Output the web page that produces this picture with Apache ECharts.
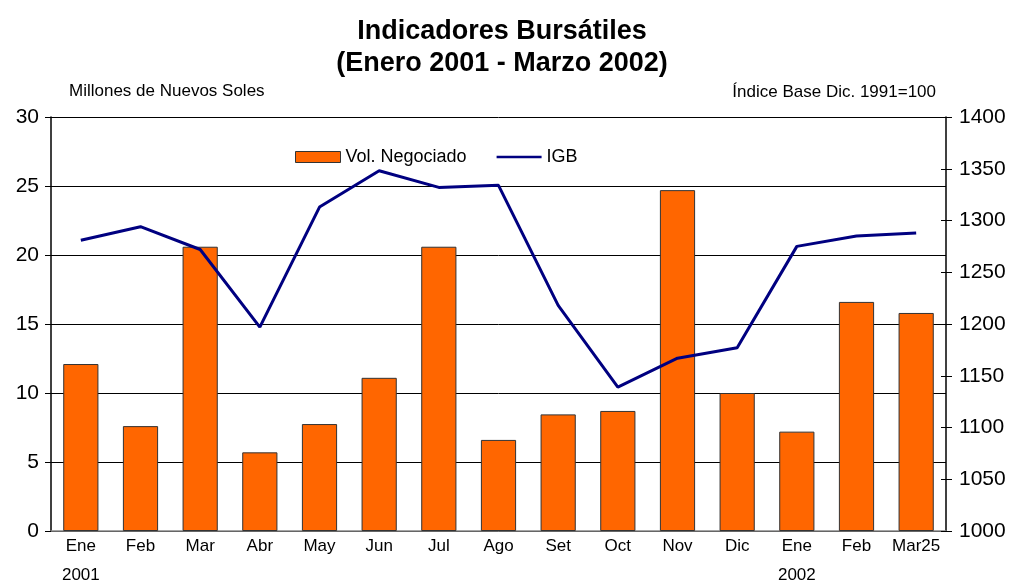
<!DOCTYPE html>
<html><head><meta charset="utf-8">
<script src="https://cdn.jsdelivr.net/npm/echarts@6/dist/echarts.min.js"></script>
<style>html,body{margin:0;padding:0;background:#fff}#c{width:1011px;height:582px}</style>
</head><body><div id="c"></div>
<script>
var categories = ['Ene','Feb','Mar','Abr','May','Jun','Jul','Ago','Set','Oct','Nov','Dic','Ene','Feb','Mar25'];
var years = ['2001','','','','','','','','','','','','2002','',''];
var volNegociado = [12.1, 7.6, 20.6, 5.7, 7.75, 11.1, 20.6, 6.6, 8.45, 8.7, 24.7, 10.0, 7.2, 16.6, 15.8];
var igb = [1281, 1294, 1272, 1197, 1313, 1348, 1332, 1334, 1218, 1139, 1167, 1177, 1275, 1285, 1288];
var leftTicks = [0, 30, 5];
var rightTicks = [1000, 1400, 50];

var chart = echarts.init(document.getElementById('c'));
var F = 'Arial, "Liberation Sans", sans-serif';
chart.setOption({
  animation: false,
  textStyle: {fontFamily: F},
  title: [
    {text: 'Indicadores Bursátiles\n(Enero 2001 - Marzo 2002)', left: 497, top: 11, textAlign: 'center',
     textStyle: {fontFamily: F, fontSize: 27, fontWeight: 'bold', color: '#000', lineHeight: 32}},
    {text: 'Millones de Nuevos Soles', left: 64, top: 78, textStyle: {fontFamily: F, fontSize: 17, fontWeight: 'normal', color: '#000'}},
    {text: 'Índice Base Dic. 1991=100', right: 70, top: 79, textStyle: {fontFamily: F, fontSize: 17, fontWeight: 'normal', color: '#000'}}
  ],
  legend: {
    top: 143, left: 290, itemGap: 30,
    textStyle: {fontFamily: F, fontSize: 18, color: '#000'},
    data: [
      {name: 'Vol. Negociado', icon: 'rect', itemStyle: {color: '#FF6600', borderColor: '#333', borderWidth: 1}},
      {name: 'IGB', icon: 'path://M0,0 L50,0 L50,3 L0,3 Z', itemStyle: {color: '#000080'}}
    ],
    itemWidth: 45, itemHeight: 11
  },
  grid: {left: 51, right: 65, top: 117, bottom: 51, containLabel: false, outerBoundsMode: 'none'},
  xAxis: {
    type: 'category', data: categories,
    axisLine: {lineStyle: {color: '#888', width: 1.5}},
    axisTick: {show: false},
    axisLabel: {
      interval: 0,
      color: '#000', fontSize: 17, fontFamily: F, margin: 1, lineHeight: 29,
      formatter: function (v, i) { return years[i] ? v + '\n' + years[i] : v; }
    }
  },
  yAxis: [
    {type: 'value', min: leftTicks[0], max: leftTicks[1], interval: leftTicks[2], position: 'left',
     axisLine: {show: true, lineStyle: {color: '#000', width: 1.5}},
     axisTick: {show: true, length: 6, lineStyle: {color: '#000'}},
     axisLabel: {color: '#000', fontSize: 21, fontFamily: F, margin: 12},
     splitLine: {show: true, lineStyle: {color: '#000', width: 1}}},
    {type: 'value', min: rightTicks[0], max: rightTicks[1], interval: rightTicks[2], position: 'right',
     axisLine: {show: true, lineStyle: {color: '#000', width: 1.5}},
     axisTick: {show: true, length: 6, lineStyle: {color: '#000'}},
     axisLabel: {color: '#000', fontSize: 21, fontFamily: F, margin: 13, formatter: function (v) { return String(v); }},
     splitLine: {show: false}},
    {type: 'value', min: rightTicks[0], max: rightTicks[1], interval: rightTicks[2], position: 'right',
     axisLine: {show: false},
     axisTick: {show: true, inside: true, length: 5, lineStyle: {color: '#000'}},
     axisLabel: {show: false}, splitLine: {show: false}}
  ],
  series: [
    {name: 'Vol. Negociado', type: 'bar', data: volNegociado, yAxisIndex: 0, barCategoryGap: '41%',
     itemStyle: {color: '#FF6600', borderColor: '#333', borderWidth: 1}},
    {name: 'IGB', type: 'line', data: igb, yAxisIndex: 1, symbol: 'none',
     lineStyle: {color: '#000080', width: 3}, itemStyle: {color: '#000080'}}
  ]
});
</script></body></html>
